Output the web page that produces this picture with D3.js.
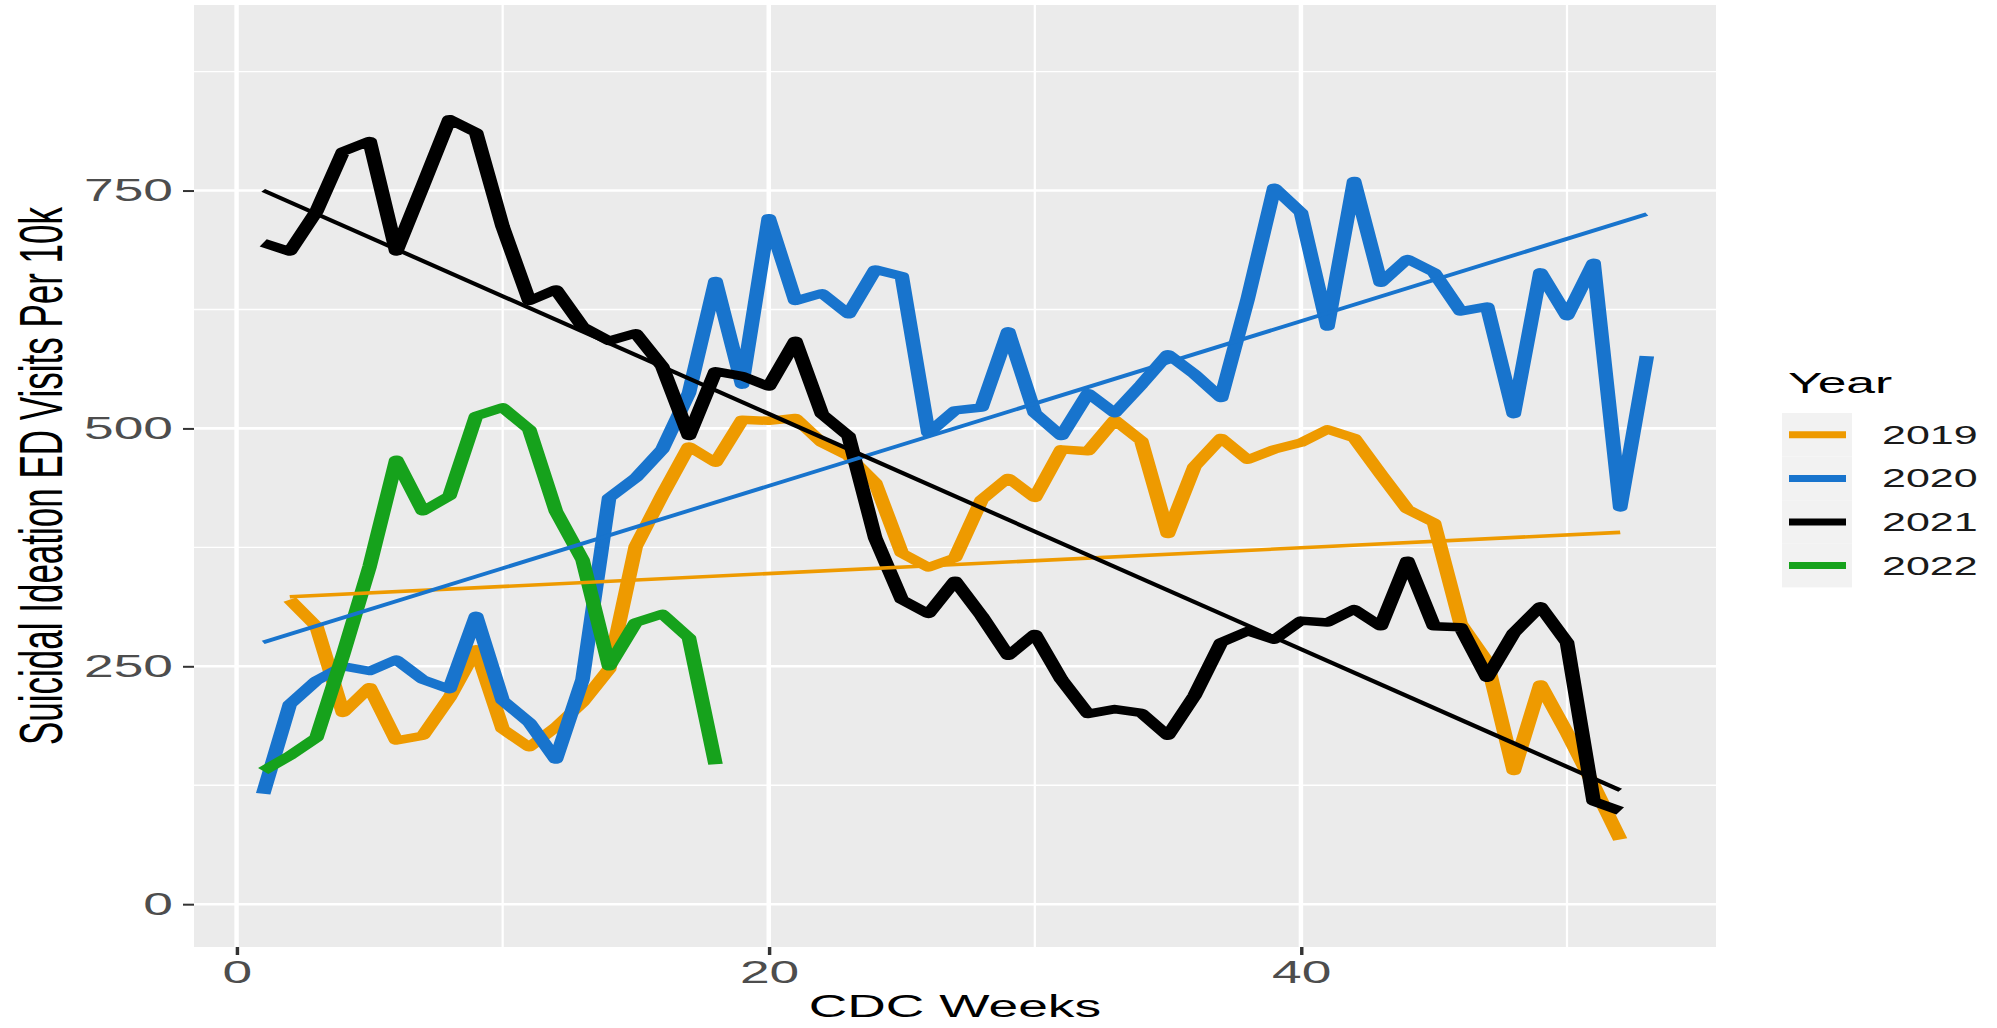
<!DOCTYPE html>
<html>
<head>
<meta charset="utf-8">
<script src="https://cdn.jsdelivr.net/npm/d3@7"></script>
<style>
  html, body { margin: 0; padding: 0; background: #fff; }
  svg { display: block; font-family: "Liberation Sans", Arial, sans-serif; }
</style>
</head>
<body>
<svg id="chart" width="1997" height="1028"></svg>
<script>
// values, one per CDC week
var years = ["2019", "2020", "2021", "2022"];
var colors = ["#EE9A00", "#1874CD", "#000000", "#16A21C"];
var startWeek = [2, 1, 1, 1];

var visits2019 = [320, 292, 201, 228, 172, 177, 217, 268, 184, 165, 186, 212, 247, 376, 430,
  481, 464, 509, 508, 511, 485, 471, 443, 369, 354, 364, 425, 448, 427, 478, 476, 509, 487,
  389, 460, 490, 467, 478, 485, 499, 490, 452, 415, 401, 295, 255, 140, 231, 180, 125, 68];
var visits2020 = [116, 210, 235, 250, 245, 257, 236, 226, 303, 214, 191, 152, 236, 427, 448,
  478, 537, 655, 546, 721, 634, 642, 620, 667, 660, 495, 519, 522, 602, 516, 492, 537, 516,
  546, 578, 557, 532, 636, 753, 727, 607, 760, 653, 678, 664, 623, 628, 515, 664, 618, 674,
  417, 576];
var visits2021 = [695, 686, 728, 791, 802, 686, 755, 825, 811, 712, 634, 646, 607, 592, 600,
  565, 492, 560, 555, 544, 592, 515, 492, 385, 320, 305, 340, 303, 261, 284, 236, 200, 205,
  201, 177, 219, 275, 287, 278, 298, 296, 310, 292, 361, 292, 291, 238, 285, 313, 275, 108, 98];
var visits2022 = [140, 156, 175, 262, 355, 467, 413, 429, 513, 522, 499, 413, 362, 250, 296,
  305, 280, 147];

var trendYears = ["2019", "2020", "2021"];   // lm fits shown for these only
var xTicks = [0, 20, 40], xMinor = [10, 30, 50];
var yTicks = [0, 250, 500, 750], yMinor = [125, 375, 625, 875];
var yLimits = [0, 900];

var values = [visits2019, visits2020, visits2021, visits2022];
var series = years.map(function (yr, i) {
  return {
    year: yr,
    color: colors[i],
    points: values[i].map(function (v, j) { return {week: startWeek[i] + j, value: v}; })
  };
});

// the reference image is stretched sideways, so draw narrow and widen the whole group
var SX = 1.72;
var svg = d3.select("#chart");
var g = svg.append("g").attr("transform", "scale(" + SX + ",1)");

var panel = {left: 194 / SX, right: 1716 / SX, top: 5, bottom: 947};

var allWeeks = [].concat.apply([], series.map(function (s) { return s.points.map(function (p) { return p.week; }); }));
var wExt = d3.extent(allWeeks);
var wPad = (wExt[1] - wExt[0]) * 0.05;
var yPad = (yLimits[1] - yLimits[0]) * 0.05;

var x = d3.scaleLinear()
  .domain([wExt[0] - wPad, wExt[1] + wPad])
  .range([panel.left, panel.right]);
var y = d3.scaleLinear()
  .domain([yLimits[0] - yPad, yLimits[1] + yPad])
  .range([panel.bottom, panel.top]);

// panel + grid
g.append("rect")
  .attr("x", panel.left).attr("y", panel.top)
  .attr("width", panel.right - panel.left).attr("height", panel.bottom - panel.top)
  .attr("fill", "#EBEBEB");

g.selectAll(".ygrid-minor").data(yMinor).enter().append("line")
  .attr("x1", panel.left).attr("x2", panel.right)
  .attr("y1", y).attr("y2", y)
  .attr("stroke", "#fff").attr("stroke-width", 1.3);
g.selectAll(".xgrid-minor").data(xMinor).enter().append("line")
  .attr("x1", x).attr("x2", x)
  .attr("y1", panel.top).attr("y2", panel.bottom)
  .attr("stroke", "#fff").attr("stroke-width", 1.3);
g.selectAll(".ygrid").data(yTicks).enter().append("line")
  .attr("x1", panel.left).attr("x2", panel.right)
  .attr("y1", y).attr("y2", y)
  .attr("stroke", "#fff").attr("stroke-width", 2.6);
g.selectAll(".xgrid").data(xTicks).enter().append("line")
  .attr("x1", x).attr("x2", x)
  .attr("y1", panel.top).attr("y2", panel.bottom)
  .attr("stroke", "#fff").attr("stroke-width", 2.6);

// axes
var xAxis = d3.axisBottom(x).tickValues(xTicks).tickSize(8).tickPadding(6);
var yAxis = d3.axisLeft(y).tickValues(yTicks).tickSize(11 / SX).tickPadding(10 / SX);

var gx = g.append("g").attr("transform", "translate(0," + panel.bottom + ")").call(xAxis);
var gy = g.append("g").attr("transform", "translate(" + panel.left + ",0)").call(yAxis);
[gx, gy].forEach(function (ax) {
  ax.select(".domain").remove();
  ax.selectAll(".tick line").attr("stroke", "#333").attr("stroke-width", 2);
  ax.selectAll(".tick text")
    .attr("fill", "#4D4D4D")
    .style("font-size", "31px")
    .style("font-family", "'Liberation Sans', Arial, sans-serif");
});
gx.selectAll(".tick text").attr("dy", "0.71em");

// data lines
var line = d3.line()
  .x(function (d) { return x(d.week); })
  .y(function (d) { return y(d.value); });

g.selectAll(".series").data(series).enter().append("path")
  .attr("class", "series")
  .attr("d", function (d) { return line(d.points); })
  .attr("fill", "none")
  .attr("stroke", function (d) { return d.color; })
  .attr("stroke-width", 8.5)
  .attr("stroke-linejoin", "round")
  .attr("stroke-linecap", "butt");

// least squares trend, like geom_smooth(method = "lm")
function fit(points) {
  var mx = d3.mean(points, function (p) { return p.week; });
  var my = d3.mean(points, function (p) { return p.value; });
  var sxy = d3.sum(points, function (p) { return (p.week - mx) * (p.value - my); });
  var sxx = d3.sum(points, function (p) { return (p.week - mx) * (p.week - mx); });
  var b = sxy / sxx, a = my - b * mx;
  var ext = d3.extent(points, function (p) { return p.week; });
  return ext.map(function (w) { return {week: w, value: a + b * w}; });
}

var trends = series.filter(function (s) { return trendYears.indexOf(s.year) >= 0; });
g.selectAll(".trend").data(trends).enter().append("path")
  .attr("class", "trend")
  .attr("d", function (d) { return line(fit(d.points)); })
  .attr("fill", "none")
  .attr("stroke", function (d) { return d.color; })
  .attr("stroke-width", 3.6);

// axis titles
g.append("text")
  .attr("x", (panel.left + panel.right) / 2).attr("y", 1017)
  .attr("text-anchor", "middle")
  .style("font-size", "31px").attr("fill", "#000")
  .text("CDC Weeks");

g.append("text")
  .attr("transform", "translate(" + (62 / SX) + "," + ((panel.top + panel.bottom) / 2) + ") rotate(-90)")
  .attr("text-anchor", "middle")
  .style("font-size", "35px").attr("fill", "#000")
  .text("Suicidal Ideation ED Visits Per 10k");

// legend
var legend = g.append("g");
legend.append("text")
  .attr("x", 1788 / SX).attr("y", 393)
  .style("font-size", "30px").attr("fill", "#000")
  .text("Year");

var keyH = 43.6, keyTop = 413;
var keys = legend.selectAll(".key").data(series).enter().append("g")
  .attr("transform", function (d, i) { return "translate(0," + (keyTop + i * keyH) + ")"; });
keys.append("rect")
  .attr("x", 1782 / SX).attr("y", 0)
  .attr("width", 70 / SX).attr("height", keyH)
  .attr("fill", "#F2F2F2");
keys.append("line")
  .attr("x1", 1789 / SX).attr("x2", 1846 / SX)
  .attr("y1", keyH / 2).attr("y2", keyH / 2)
  .attr("stroke", function (d) { return d.color; })
  .attr("stroke-width", 7);
keys.append("text")
  .attr("x", 1882 / SX).attr("y", keyH / 2).attr("dy", "0.36em")
  .style("font-size", "25px").attr("fill", "#1A1A1A")
  .text(function (d) { return d.year; });
</script>
</body>
</html>
